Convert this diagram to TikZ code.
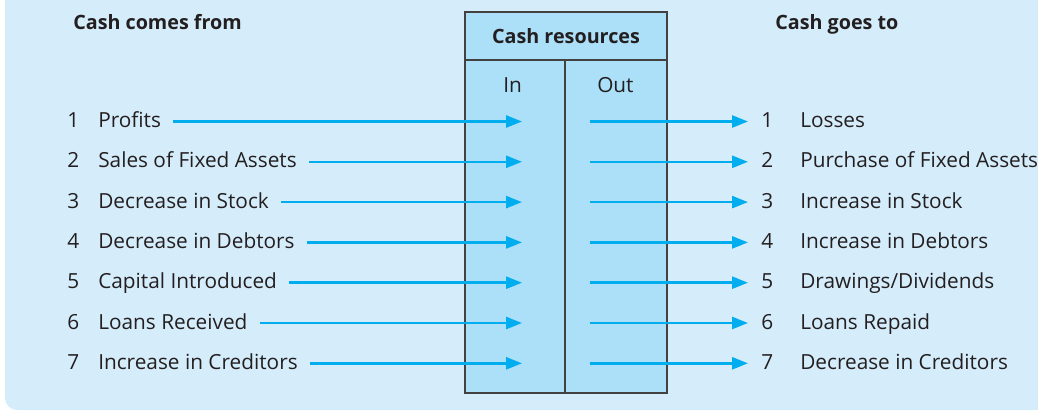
\documentclass[tikz,border=0pt]{standalone}
\usepackage{fontspec}
\setmainfont{Open Sans}
\usetikzlibrary{arrows.meta}
\definecolor{panel}{HTML}{D5ECFA}
\definecolor{boxfill}{HTML}{ACDFF8}
\definecolor{arr}{HTML}{00AEEF}
\definecolor{ink}{HTML}{231F20}
\begin{document}
\begin{tikzpicture}[x=0.75pt,y=-0.75pt,
  lbl/.style={anchor=base west, inner sep=0pt, text=ink, font=\fontsize{15.6}{18}\selectfont},
  hd/.style={anchor=base west, inner sep=0pt, text=ink, font=\fontsize{14.8}{17}\selectfont\bfseries},
  flow/.style={draw=arr, line width=1.9pt, -{Triangle[length=12pt,width=9pt]}},
  boxline/.style={draw=ink!85, line width=0.9pt}]
\useasboundingbox (0,0) rectangle (1038,412);
\fill[panel, rounded corners=9pt] (5,-30) rectangle (1070,410);
% central box
\path[fill=boxfill, boxline] (465,12) rectangle (667,393);
\draw[boxline] (465,60) -- (667,60);
\draw[boxline] (565,60) -- (565,393);
\node[anchor=base, inner sep=0pt, text=ink, font=\fontsize{14.8}{17}\selectfont\bfseries] (res) at (566,43) {Cash resources};
\node[lbl] (in) at (503,92) {In};
\node[lbl] (out) at (597,92) {Out};
% headings
\node[hd] (hfrom) at (73,29) {Cash comes from};
\node[hd] (hto) at (775,29) {Cash goes to};
% rows
\foreach \i/\lt/\rt in {1/Profits/Losses,
  2/Sales of Fixed Assets/Purchase of Fixed Assets,
  3/Decrease in Stock/Increase in Stock,
  4/Decrease in Debtors/Increase in Debtors,
  5/Capital Introduced/Drawings\slash Dividends,
  6/Loans Received/Loans Repaid,
  7/Increase in Creditors/Decrease in Creditors}{
  \pgfmathsetmacro{\yy}{121.5+40.3*(\i-1)}
  \node[lbl] (ln\i) at (67,\yy+6) {\i};
  \node[lbl] (lt\i) at (98,\yy+6) {\lt};
  \node[lbl] (rn\i) at (761,\yy+6) {\i};
  \node[lbl] (rt\i) at (800,\yy+6) {\rt};
  \coordinate (inp\i) at (522,\yy);
  \coordinate (outp\i) at (590,\yy);
  \coordinate (tip\i) at (748,\yy);
  \draw[flow] ([xshift=9pt]lt\i.east |- inp\i) -- (inp\i);
  \draw[flow] (outp\i) -- (tip\i);
}
\end{tikzpicture}
\end{document}
